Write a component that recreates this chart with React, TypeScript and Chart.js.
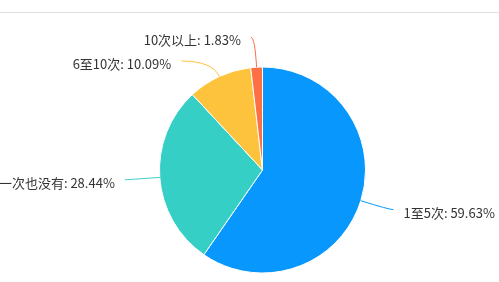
import React, { useEffect, useRef } from "react";
import { Chart, registerables } from "chart.js";

Chart.register(...registerables);

const categories = ["1至5次", "一次也没有", "6至10次", "10次以上"];
const percentages = [59.63, 28.44, 10.09, 1.83];
const colors = ["#0797fd", "#36cfc6", "#fdc33c", "#fd6f44"];
// leader-line styling: radial length and horizontal length per slice
const lineLen1 = [30, 33, 17, 30];
const lineLen2 = [4, 2, 31, 4];

const labelPlugin = {
  id: "outsideLabels",
  afterDatasetsDraw(chart: any) {
    const ctx = chart.ctx;
    const meta = chart.getDatasetMeta(0);
    ctx.save();
    ctx.font = '13px "Noto Sans CJK SC", "Microsoft YaHei", sans-serif';
    ctx.textBaseline = "middle";
    meta.data.forEach((arc: any, i: number) => {
      const { x, y, startAngle, endAngle, outerRadius } = arc.getProps(
        ["x", "y", "startAngle", "endAngle", "outerRadius"],
        true
      );
      const mid = (startAngle + endAngle) / 2;
      const dx = Math.cos(mid);
      const dy = Math.sin(mid);
      const sx = x + outerRadius * dx;
      const sy = y + outerRadius * dy;
      const ex = x + (outerRadius + lineLen1[i]) * dx;
      const ey = y + (outerRadius + lineLen1[i]) * dy;
      const side = dx >= 0 ? 1 : -1;
      const fx = ex + side * lineLen2[i];
      const fy = ey;
      ctx.strokeStyle = colors[i];
      ctx.lineWidth = 1;
      ctx.beginPath();
      ctx.moveTo(sx, sy);
      ctx.quadraticCurveTo(ex, ey, fx, fy);
      ctx.stroke();
      ctx.fillStyle = "#333";
      ctx.textAlign = side > 0 ? "left" : "right";
      ctx.fillText(`${categories[i]}: ${percentages[i]}%`, fx + side * 10, fy + 3);
    });
    ctx.restore();
  },
};

export default function App() {
  const ref = useRef<HTMLCanvasElement>(null);
  useEffect(() => {
    if (!ref.current) return;
    const chart = new Chart(ref.current, {
      type: "pie",
      data: {
        labels: categories,
        datasets: [
          {
            data: percentages,
            backgroundColor: colors,
            borderColor: "#ffffff",
            borderWidth: 1,
          },
        ],
      },
      options: {
        animation: false,
        responsive: false,
        maintainAspectRatio: false,
        layout: { padding: { left: 159, right: 133, top: 66, bottom: 8 } },
        plugins: {
          legend: { display: false },
          tooltip: { enabled: false },
        },
      },
      plugins: [labelPlugin],
    });
    return () => chart.destroy();
  }, []);
  return (
    <div
      style={{
        position: "absolute",
        left: 0,
        top: 0,
        width: 499,
        height: 282,
        background: "#fff",
        overflow: "hidden",
      }}
    >
      <div
        style={{
          position: "absolute",
          left: 0,
          top: 12,
          width: 499,
          height: 0,
          borderTop: "1px solid #dedede",
        }}
      />
      <canvas
        ref={ref}
        width={499}
        height={282}
        style={{ position: "absolute", left: 0, top: 0, display: "block" }}
      />
    </div>
  );
}
